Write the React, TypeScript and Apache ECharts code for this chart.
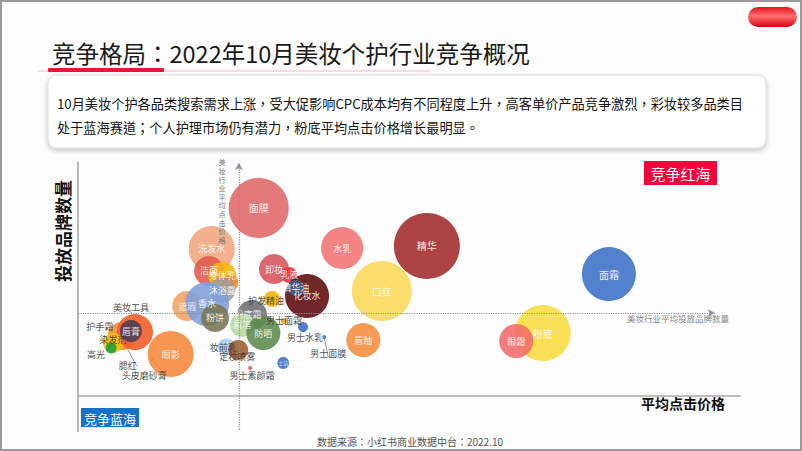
import React, { useEffect, useRef } from "react";
import * as echarts from "echarts";

// ---- data (x = 平均点击价格 index, y = 投放品牌数量 index, size = 搜索热度 index)
const names = [
  "面膜", "洗发水", "洁面", "身体乳", "", "沐浴露", "遮瑕", "香水", "粉饼",
  "护手霜", "美妆工具", "唇膏", "染发剂", "高光", "腮红", "头皮磨砂膏", "眼影",
  "卸妆", "乳液", "化妆水", "精华油", "护发精油", "粉底霜", "眉笔", "防晒",
  "男士面霜", "男士水乳", "男士面膜", "男士洁面", "男士素颜霜", "妆前乳", "定妆喷雾",
  "水乳", "精华", "口红", "唇釉", "面霜", "粉底", "眼霜",
];
const clickPrice = [
  27.3, 20.2, 19.8, 21.8, 23.0, 21.8, 16.5, 19.5, 20.7,
  6.6, 8.6, 8.0, 5.3, 5.0, 6.9, 11.2, 14.0,
  29.6, 31.9, 34.6, 32.9, 29.3, 26.3, 24.8, 28.0,
  31.1, 34.0, 37.2, 31.0, 26.0, 22.4, 24.2,
  39.9, 52.7, 45.9, 43.1, 80.2, 70.2, 66.2,
];
const brandCount = [
  79.7, 62.3, 53.0, 50.9, 47.9, 44.9, 38.1, 39.0, 33.1,
  25.4, 27.1, 27.5, 22.5, 20.3, 22.9, 15.7, 17.8,
  53.8, 51.3, 42.4, 45.8, 41.1, 34.3, 30.1, 26.7,
  31.8, 29.2, 25.0, 14.0, 11.9, 20.8, 19.5,
  62.7, 63.6, 44.5, 23.7, 51.7, 26.7, 23.3,
];
const searchHeat = [
  60, 46, 30, 28, 16, 26, 30, 44, 28,
  28, 36, 22, 20, 11, 6, 4, 46,
  30, 16, 44, 16, 16, 30, 24, 34,
  6, 10, 4, 12, 4, 17, 20,
  42, 66, 60, 34, 54, 56, 34,
];
const avgClickPrice = 24.3; // 美妆行业平均点击价格
const avgBrandCount = 35.2; // 美妆行业平均投放品牌数量

// ---- styles
const palette = [
  "#e06666", "#f0a67c", "#e05a4c", "#f7b500", "#f58220", "#9d9d9d", "#f5a060", "#7f9fd9", "#787553",
  "#f28a2e", "#f25a26", "#4a3e56", "#f7c20a", "#16a03c", "#f06a3a", "#f58a3a", "#f5883a",
  "#d4545a", "#e8303c", "#5c0a0c", "#3b6496", "#f5b400", "#6e6e6e", "#b4d99c", "#5b8a4c",
  "#e6a01e", "#3a6ec8", "#3a6ec8", "#3a6ec8", "#e05060", "#a9cdf0", "#9c5a2c",
  "#f27272", "#a02a2a", "#fad858", "#f58c3c", "#3b6fc4", "#f9dc3c", "#f46a6a",
];
type LabelCfg = { offset?: [number, number]; dark?: boolean; line?: boolean; size?: number; hide?: boolean };
const labelCfg: Record<string, LabelCfg> = {
  "美妆工具": { offset: [-4, -25], dark: true, line: true },
  "护手霜": { offset: [-22, -10], dark: true },
  "高光": { offset: [-15, 6], dark: true },
  "染发剂": { offset: [0, -3], dark: true },
  "腮红": { offset: [4, 24], dark: true, line: true },
  "头皮磨砂膏": { offset: [-8, 17], dark: true, line: true },
  "护发精油": { offset: [-6, 1], dark: true },
  "男士面霜": { offset: [0, 0], dark: true },
  "男士水乳": { offset: [2, 10], dark: true },
  "男士面膜": { offset: [4, 16], dark: true, line: true },
  "男士素颜霜": { offset: [2, 8], dark: true },
  "妆前乳": { offset: [-3, 1], dark: true },
  "定妆喷雾": { offset: [-1, 7], dark: true },
  "粉底霜": { offset: [-4, -1] },
  "男士洁面": { size: 5 },
  "": { hide: true },
};

const CJK = '"Noto Sans CJK SC", "Noto Sans", sans-serif';
const CJK_TC = '"Noto Sans CJK TC", "Noto Sans CJK SC", sans-serif';

export default function App() {
  const ref = useRef<HTMLDivElement>(null);
  useEffect(() => {
    if (!ref.current) return;
    const chart = echarts.init(ref.current, undefined, { renderer: "svg" });
    const data = names.map((n, i) => {
      const c = labelCfg[n] || {};
      return {
        name: n,
        value: [clickPrice[i], brandCount[i], searchHeat[i]],
        itemStyle: { color: palette[i], opacity: 0.88 },
        label: {
          show: !c.hide,
          position: "inside",
          formatter: "{b}",
          offset: c.offset || [0, 0],
          color: c.dark ? "#333" : "#fff",
          fontSize: c.size || (searchHeat[i] > 50 ? 10 : 9),
          fontFamily: CJK,
        },
        labelLine: c.line
          ? { show: true, lineStyle: { color: "#777", width: 0.8 }, length2: 0 }
          : { show: false },
      };
    });
    chart.setOption({
      animation: false,
      backgroundColor: "#fdfdfd",
      grid: { left: 78, right: 62, top: 162.4, bottom: 19.6 },
      xAxis: {
        type: "value", min: 0, max: 100,
        axisLine: { show: true, onZero: true, lineStyle: { color: "#a8a8a8", width: 1.6 } },
        axisTick: { show: false }, axisLabel: { show: false }, splitLine: { show: false },
      },
      yAxis: {
        type: "value", min: -15, max: 99,
        axisLine: { show: true, lineStyle: { color: "#a8a8a8", width: 1.6 } },
        axisTick: { show: false }, axisLabel: { show: false }, splitLine: { show: false },
      },
      series: [
        {
          type: "scatter",
          data,
          symbolSize: (v: number[]) => v[2],
          emphasis: { disabled: true },
          markLine: {
            silent: true,
            symbol: ["none", "arrow"],
            symbolSize: [6, 7],
            label: { show: false },
            lineStyle: { type: "dotted", color: "#8a90a0", width: 1.2 },
            data: [
              [{ coord: [0, avgBrandCount] }, { coord: [96.2, avgBrandCount] }],
              [{ coord: [avgClickPrice, -14.4] }, { coord: [avgClickPrice, 98.7] }],
            ],
          },
        },
      ],
      graphic: [
        { type: "rect", shape: { x: 1, y: 1, width: 800, height: 449 }, style: { fill: "none", stroke: "#9a9a9a", lineWidth: 2 } },
        {
          type: "rect", shape: { x: 748, y: 7, width: 49, height: 20, r: 10 },
          style: {
            fill: new echarts.graphic.LinearGradient(0, 0, 0, 1, [
              { offset: 0, color: "#e8101e" },
              { offset: 0.45, color: "#ff7070" },
              { offset: 1, color: "#d9000f" },
            ]),
          },
        },
        { type: "text", x: 52, y: 53, style: { text: "竞争格局：2022年10月美妆个护行业竞争概况", fontSize: 23.5, fill: "#1a1a1a", fontFamily: CJK_TC, verticalAlign: "middle" } },
        { type: "line", shape: { x1: 38, y1: 71, x2: 430, y2: 71 }, style: { stroke: "#f3b9c5", lineWidth: 1 } },
        { type: "rect", shape: { x: 48, y: 68, width: 116, height: 4, r: 1 }, style: { fill: "#e8173a" } },
        {
          type: "rect", shape: { x: 48, y: 75, width: 718, height: 73, r: 8 },
          style: { fill: "#ffffff", stroke: "#dcdcdc", lineWidth: 1, shadowBlur: 5, shadowOffsetY: 2, shadowColor: "rgba(0,0,0,0.25)" },
        },
        { type: "text", x: 57, y: 103, style: { text: "10月美妆个护各品类搜索需求上涨，受大促影响CPC成本均有不同程度上升，高客单价产品竞争激烈，彩妆较多品类目", fontSize: 13.2, fill: "#111", fontFamily: CJK_TC, verticalAlign: "middle" } },
        { type: "text", x: 57, y: 127, style: { text: "处于蓝海赛道；个人护理市场仍有潜力，粉底平均点击价格增长最明显。", fontSize: 13.2, fill: "#111", fontFamily: CJK_TC, verticalAlign: "middle" } },
        { type: "text", z: 100, x: 222, y: 158, style: { text: "美妆行业平均点击价格".split("").join("\n"), fontSize: 7.2, lineHeight: 8.6, fill: "#777", fontFamily: CJK, align: "center" } },
        { type: "text", z: 100, x: 627, y: 318, style: { text: "美妆行业平均投放品牌数量", fontSize: 8.5, fill: "#888", fontFamily: CJK, verticalAlign: "middle" } },
        { type: "text", x: 62, y: 231, rotation: Math.PI / 2, style: { text: "投放品牌数量", fontSize: 17, fontWeight: "bold", fill: "#111", fontFamily: CJK, align: "center", verticalAlign: "middle" } },
        { type: "text", x: 683, y: 403, style: { text: "平均点击价格", fontSize: 14, fontWeight: "bold", fill: "#111", fontFamily: CJK, align: "center", verticalAlign: "middle" } },
        { type: "rect", shape: { x: 81, y: 408, width: 58, height: 19 }, style: { fill: "#1672c6" } },
        { type: "text", x: 110, y: 418, style: { text: "竞争蓝海", fontSize: 13, fill: "#fff", fontFamily: CJK, align: "center", verticalAlign: "middle" } },
        { type: "rect", shape: { x: 644, y: 161, width: 73, height: 24 }, style: { fill: "#f0043c" } },
        { type: "text", x: 680.5, y: 173, style: { text: "竞争红海", fontSize: 15, fill: "#fff", fontFamily: CJK, align: "center", verticalAlign: "middle" } },
        { type: "text", x: 410, y: 441, style: { text: "数据来源：小红书商业数据中台：2022.10", fontSize: 10, fill: "#555", fontFamily: CJK_TC, align: "center", verticalAlign: "middle" } },
      ],
    });
    return () => chart.dispose();
  }, []);
  return <div ref={ref} style={{ position: "fixed", left: 0, top: 0, width: 802, height: 451 }} />;
}
